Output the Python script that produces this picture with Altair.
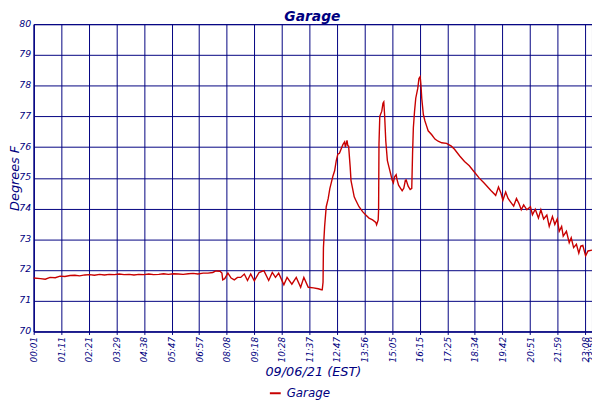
import json
import altair as alt
import pandas as pd

# sample index along the day and temperature (deg F)
sample = [0, 17, 29, 41, 54, 66, 78, 91, 103, 115, 128, 140, 152, 165, 177, 189, 202, 214, 226, 239,
          251, 263, 276, 288, 300, 313, 325, 337, 350, 362, 374, 387, 399, 411, 424, 436, 448, 456, 466, 471,
          473, 478, 486, 494, 502, 510, 518, 527, 535, 543, 552, 564, 576, 588, 597, 605, 613, 626, 634, 646,
          657, 668, 676, 687, 700, 712, 720, 722, 724, 725, 728, 732, 737, 741, 745, 749, 753, 757, 761, 765,
          769, 774, 778, 780, 784, 786, 788, 792, 794, 798, 802, 806, 814, 823, 831, 839, 848, 856, 858, 862,
          863, 864, 866, 871, 874, 876, 878, 881, 885, 889, 893, 897, 900, 903, 907, 909, 913, 918, 922, 926,
          930, 932, 937, 942, 946, 948, 950, 953, 956, 961, 964, 967, 969, 971, 975, 979, 983, 987, 996, 1004,
          1012, 1021, 1033, 1045, 1053, 1066, 1078, 1090, 1103, 1115, 1127, 1144, 1156, 1163, 1169, 1174, 1181, 1187, 1193, 1201,
          1208, 1214, 1220, 1226, 1234, 1243, 1248, 1255, 1263, 1269, 1276, 1284, 1290, 1298, 1304, 1310, 1315, 1321, 1325, 1333,
          1340, 1345, 1351, 1358, 1364, 1369, 1374, 1381, 1387, 1397]
temp = [71.74, 71.72, 71.70, 71.76, 71.75, 71.80, 71.79, 71.82, 71.83, 71.81, 71.84, 71.85, 71.83, 71.86, 71.84, 71.86, 71.85, 71.87, 71.85, 71.86,
        71.84, 71.86, 71.85, 71.87, 71.85, 71.86, 71.88, 71.86, 71.88, 71.87, 71.86, 71.88, 71.89, 71.87, 71.90, 71.90, 71.92, 71.97, 71.96, 71.90,
        71.68, 71.72, 71.90, 71.74, 71.68, 71.76, 71.76, 71.87, 71.66, 71.87, 71.65, 71.92, 71.98, 71.66, 71.92, 71.76, 71.90, 71.52, 71.76, 71.54,
        71.76, 71.44, 71.76, 71.44, 71.42, 71.39, 71.36, 71.36, 71.60, 72.73, 73.42, 74.06, 74.33, 74.65, 74.86, 75.07, 75.23, 75.55, 75.77, 75.80,
        75.93, 76.09, 76.17, 76.00, 76.22, 76.05, 76.03, 75.34, 74.91, 74.65, 74.38, 74.27, 74.06, 73.90, 73.79, 73.69, 73.63, 73.55, 73.47, 73.63,
        73.95, 76.10, 77.00, 77.17, 77.43, 77.47, 77.06, 76.20, 75.56, 75.35, 75.14, 74.92, 74.84, 75.03, 75.10, 74.95, 74.76, 74.66, 74.58, 74.66,
        74.92, 74.93, 74.73, 74.62, 74.66, 75.78, 76.63, 77.17, 77.59, 77.91, 78.23, 78.29, 78.02, 77.59, 77.06, 76.85, 76.69, 76.53, 76.40, 76.26,
        76.19, 76.14, 76.12, 76.03, 75.93, 75.71, 75.53, 75.39, 75.18, 74.99, 74.83, 74.59, 74.43, 74.70, 74.51, 74.27, 74.54, 74.33, 74.22, 74.08,
        74.33, 74.17, 73.96, 74.12, 73.96, 74.06, 73.80, 73.98, 73.69, 73.96, 73.66, 73.79, 73.42, 73.74, 73.48, 73.66, 73.26, 73.42, 73.10, 73.26,
        72.89, 73.05, 72.73, 72.84, 72.55, 72.78, 72.80, 72.46, 72.62, 72.65]

tick_samples = [0, 69, 138, 207, 276, 345, 414, 483, 552, 621, 690, 759, 828, 897, 966, 1035, 1104, 1173, 1242, 1311, 1380, 1397]
tick_labels = ["00:01", "01:11", "02:21", "03:29", "04:38", "05:47", "06:57", "08:08", "09:18", "10:28", "11:37",
               "12:47", "13:56", "15:05", "16:15", "17:25", "18:34", "19:42", "20:51", "21:59", "23:08", "23:59"]
y_ticks = [70, 71, 72, 73, 74, 75, 76, 77, 78, 79, 80]
chart_title = ["Garage"]

df = pd.DataFrame({"sample": sample, "temp": temp, "series": "Garage"})
title_df = pd.DataFrame({"t": chart_title})

NAVY = "#000080"
FONT = "DejaVu Sans"
label_expr = f"{json.dumps(tick_labels)}[indexof({json.dumps(tick_samples)}, datum.value)]"

line = alt.Chart(df).mark_line(strokeWidth=1.4).encode(
    x=alt.X("sample:Q",
            scale=alt.Scale(domain=[0, 1397], nice=False, zero=False),
            axis=alt.Axis(values=tick_samples, labelExpr=label_expr, labelAngle=270,
                          labelFont=FONT, labelFontSize=9, labelFontStyle="italic", labelColor=NAVY,
                          labelPadding=2, labelOverlap=False, labelFlush=False,
                          tickSize=3, tickColor=NAVY, domainColor=NAVY,
                          grid=True, gridColor=NAVY, gridOpacity=1, gridWidth=1,
                          title="09/06/21 (EST)", titleFont=FONT, titleFontSize=13,
                          titleFontStyle="italic", titleFontWeight="normal", titleColor=NAVY,
                          titleY=45, titleBaseline="alphabetic")),
    y=alt.Y("temp:Q",
            scale=alt.Scale(domain=[70, 80], nice=False, zero=False),
            axis=alt.Axis(values=y_ticks, format="d",
                          labelFont=FONT, labelFontSize=9.5, labelFontStyle="italic", labelColor=NAVY,
                          labelPadding=3, labelOffset=-1, tickSize=0, domainColor=NAVY,
                          grid=True, gridColor=NAVY, gridOpacity=1, gridWidth=1,
                          title="Degrees F", titleFont=FONT, titleFontSize=13,
                          titleFontStyle="italic", titleFontWeight="normal", titleColor=NAVY,
                          titleAngle=270, titleX=-15, titleY=155.5, titleAlign="center",
                          titleBaseline="alphabetic")),
    color=alt.Color("series:N",
                    scale=alt.Scale(domain=["Garage"], range=["#C80000"]),
                    legend=alt.Legend(orient="none", legendX=238, legendY=367, title=None,
                                      symbolType="stroke", symbolSize=121, symbolStrokeWidth=2,
                                      labelFont=FONT, labelFontSize=12, labelFontStyle="italic",
                                      labelColor=NAVY, labelOffset=5, padding=0)),
)

title_mark = alt.Chart(title_df).mark_text(
    font=FONT, fontSize=14, fontStyle="italic", fontWeight="bold", color=NAVY,
    align="center", baseline="alphabetic"
).encode(text="t:N", x=alt.value(282), y=alt.value(-3))

chart = alt.layer(line, title_mark).properties(
    width=565,
    height=311,
    autosize=alt.AutoSizeParams(type="none"),
    padding={"left": 26, "top": 14, "right": 0, "bottom": 70},
).configure_view(stroke=NAVY, strokeWidth=1)

chart.save("out.html", embed_options={"renderer": "svg", "actions": False})
